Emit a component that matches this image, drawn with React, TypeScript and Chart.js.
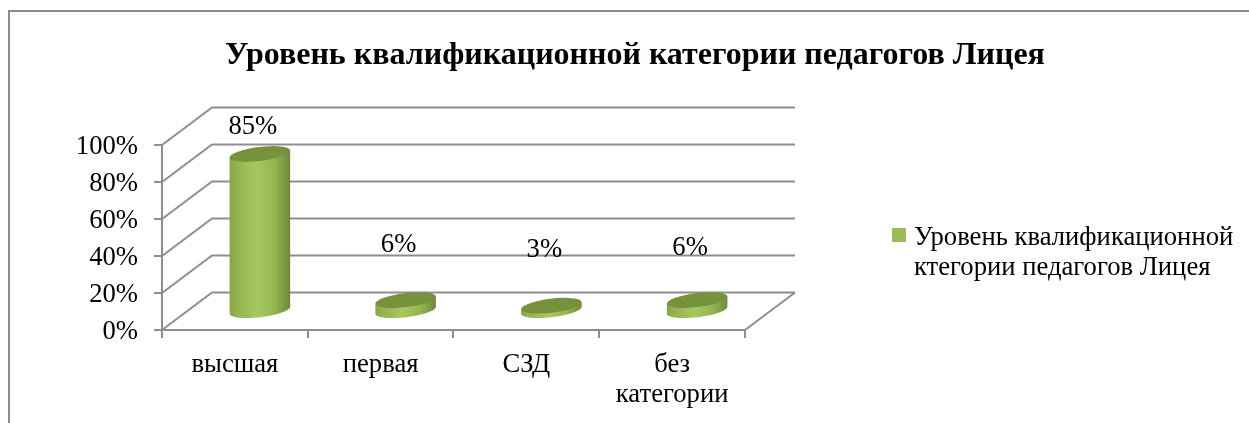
import React, { useEffect, useRef } from "react";
import { Chart, registerables } from "chart.js";

Chart.register(...registerables);

const titleText = "Уровень квалификационной категории педагогов Лицея";
const categories = ["высшая", "первая", "СЗД", ["без", "категории"]];
const seriesValues = [85, 6, 3, 6];
const legendLines = ["Уровень квалификационной", "ктегории педагогов Лицея"];
const yTicks = [0, 20, 40, 60, 80, 100];

const FONT = "'Liberation Serif', 'Times New Roman', serif";
const FS = 26.67;
const GRID = "#8e8e8e";
const DEPTH_X = 50;
const DEPTH_Y = -37.5;
const labelLift = [27.5, 55.5, 55.5, 52];

const depthPlugin = {
  id: "depth3d",
  beforeDraw(chart: any) {
    const { ctx } = chart;
    ctx.save();
    ctx.strokeStyle = "#8c8c8c";
    ctx.lineWidth = 2;
    ctx.beginPath();
    ctx.moveTo(9, 423);
    ctx.lineTo(9, 11);
    ctx.lineTo(1249, 11);
    ctx.stroke();
    ctx.restore();
  },
  beforeDatasetsDraw(chart: any) {
    const { ctx, scales, chartArea } = chart;
    const { left, right, bottom } = chartArea;
    ctx.save();
    ctx.strokeStyle = GRID;
    ctx.lineWidth = 2;
    yTicks.forEach((t) => {
      const y = scales.y.getPixelForValue(t);
      ctx.beginPath();
      ctx.moveTo(left, y);
      ctx.lineTo(left + DEPTH_X, y + DEPTH_Y);
      ctx.lineTo(right + DEPTH_X, y + DEPTH_Y);
      ctx.stroke();
    });
    ctx.beginPath();
    ctx.moveTo(right, bottom);
    ctx.lineTo(right + DEPTH_X, bottom + DEPTH_Y);
    ctx.stroke();
    ctx.restore();
  },
  beforeDatasetDraw(chart: any, args: any) {
    const { ctx } = chart;
    const meta = chart.getDatasetMeta(args.index);
    const angle = (-7 * Math.PI) / 180;
    const ry = 7;
    meta.data.forEach((bar: any) => {
      const rx = bar.width / 2;
      const cx = bar.x + DEPTH_X / 2;
      const topY = bar.y + DEPTH_Y / 2;
      const baseY = bar.base + DEPTH_Y / 2;
      const dx = rx * Math.cos(angle);
      const dy = rx * Math.sin(angle);
      const g = ctx.createLinearGradient(cx - rx, 0, cx + rx, 0);
      g.addColorStop(0, "#86a447");
      g.addColorStop(0.12, "#94b350");
      g.addColorStop(0.45, "#a6c860");
      g.addColorStop(0.75, "#95b452");
      g.addColorStop(1, "#6d8939");
      ctx.save();
      ctx.fillStyle = g;
      ctx.beginPath();
      ctx.moveTo(cx - dx, topY - dy);
      ctx.lineTo(cx - dx, baseY - dy);
      ctx.ellipse(cx, baseY, rx, ry, angle, Math.PI, 0, true);
      ctx.lineTo(cx + dx, topY + dy);
      ctx.closePath();
      ctx.fill();
      ctx.fillStyle = "#76923c";
      ctx.beginPath();
      ctx.ellipse(cx, topY, rx, ry, angle, 0, Math.PI * 2);
      ctx.fill();
      ctx.restore();
    });
    return false;
  },
  afterDatasetsDraw(chart: any) {
    const { ctx } = chart;
    const meta = chart.getDatasetMeta(0);
    ctx.save();
    ctx.fillStyle = "#000";
    ctx.font = `${FS}px ${FONT}`;
    ctx.textAlign = "center";
    ctx.textBaseline = "middle";
    meta.data.forEach((bar: any, i: number) => {
      ctx.fillText(
        `${seriesValues[i]}%`,
        bar.x + DEPTH_X / 2 - 7,
        bar.y + DEPTH_Y / 2 - labelLift[i]
      );
    });
    ctx.restore();
  },
  afterLayout(chart: any) {
    const legend = chart.legend;
    const pad = legend.options.labels.padding;
    legend.left = 897.33 - pad;
    legend.top = 225 - pad;
    legend.right = 1249;
    legend.bottom = 300;
    legend.width = legend.right - legend.left;
    legend.height = legend.bottom - legend.top;
    const title = chart.titleBlock;
    title.left = 21;
    title.right = 1249;
  },
  afterDraw(chart: any) {
    const { ctx } = chart;
    ctx.save();
    ctx.fillStyle = chart.data.datasets[0].backgroundColor;
    ctx.fillRect(892, 228, 14, 14);
    ctx.restore();
  },
};

export default function App() {
  const ref = useRef<HTMLCanvasElement>(null);
  useEffect(() => {
    const chart = new Chart(ref.current as HTMLCanvasElement, {
      type: "bar",
      plugins: [depthPlugin],
      data: {
        labels: categories as any,
        datasets: [
          {
            label: legendLines.join(" "),
            data: seriesValues,
            backgroundColor: "#9bbb59",
            categoryPercentage: 1,
            barPercentage: 0.4185,
          },
        ],
      },
      options: {
        responsive: false,
        animation: false,
        layout: { autoPadding: false, padding: { left: 21, right: 262.67, top: 0, bottom: 0 } },
        scales: {
          x: {
            offset: true,
            border: { color: GRID, width: 2 },
            grid: { color: GRID, lineWidth: 2, drawOnChartArea: false, drawTicks: true, tickLength: 8, offset: true },
            ticks: { color: "#000", font: { family: FONT, size: FS, lineHeight: 1.125 }, padding: 12, maxRotation: 0, autoSkip: false },
            afterFit: (s: any) => { s.height = 93; },
          },
          y: {
            min: 0,
            max: 100,
            border: { color: GRID, width: 2 },
            grid: { color: GRID, lineWidth: 2, drawOnChartArea: false, drawTicks: true, tickLength: 8 },
            ticks: {
              stepSize: 20,
              color: "#000",
              font: { family: FONT, size: FS, lineHeight: 0.15 },
              padding: 16,
              callback: (v: any) => ["", `${v}%`],
            },
            afterFit: (s: any) => { s.width = 141; },
          },
        },
        plugins: {
          title: {
            display: true,
            text: titleText,
            color: "#000",
            font: { family: FONT, size: 32, weight: "bold", lineHeight: 1.2 },
            padding: { top: 36.8, bottom: 69.8 },
          },
          legend: {
            display: true,
            position: "right",
            align: "start",
            labels: {
              boxWidth: 3.33,
              boxHeight: 3.33,
              padding: 10,
              color: "#000",
              font: { family: FONT, size: FS, lineHeight: 1.125 },
              generateLabels: () => [
                {
                  text: legendLines as any,
                  fillStyle: "rgba(0,0,0,0)",
                  strokeStyle: "rgba(0,0,0,0)",
                  lineWidth: 0,
                  hidden: false,
                  datasetIndex: 0,
                },
              ],
            },
          },
          tooltip: { enabled: false },
        },
      },
    } as any);
    return () => chart.destroy();
  }, []);
  return (
    <canvas
      ref={ref}
      width={1249}
      height={423}
      style={{ position: "absolute", left: 0, top: 0, display: "block" }}
    />
  );
}
